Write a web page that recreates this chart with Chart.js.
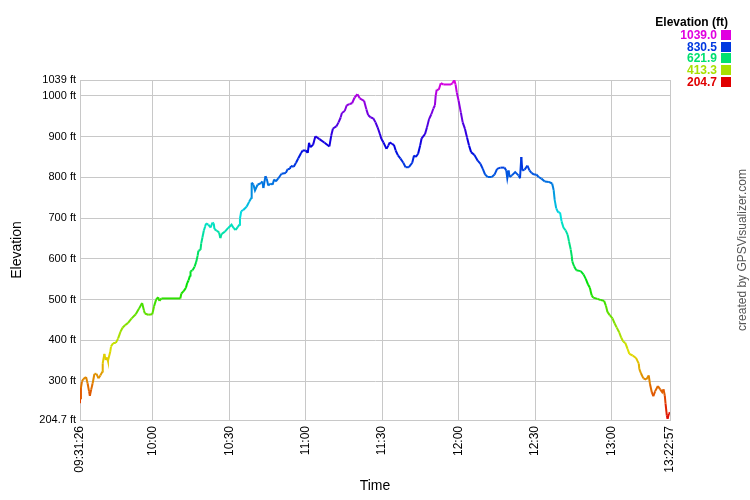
<!DOCTYPE html>
<html>
<head>
<meta charset="utf-8">
<script src="https://cdn.jsdelivr.net/npm/chart.js@4.4.0/dist/chart.umd.min.js"></script>
<style>
  body { margin: 0; background: #fff; }
  #wrap { width: 750px; height: 500px; }
</style>
</head>
<body>
<div id="wrap"><canvas id="chart" width="750" height="500"></canvas></div>
<script>
// time = minutes after 09:00, elevation in ft
var times = [
  31.43, 31.45, 31.8, 32.2, 32.7, 33.8, 34.4, 35.0, 35.3, 35.8, 36.4, 37.1, 37.9, 38.7, 39.4, 40.3, 40.35, 41.0, 41.5, 42.1,
  42.4, 43.3, 43.6, 44.4, 45.5, 46.4, 47.3, 48.1, 49.1, 50.3, 51.7, 53.3, 54.6, 55.8, 56.5, 56.9, 58.2, 59.8, 60.5, 61.3,
  62.1, 62.6, 63.4, 64.7, 68.8, 70.8, 71.2, 72.1, 73.0, 73.5, 74.0, 74.6, 74.8, 75.6, 76.4, 77.0, 77.6, 77.9, 78.7, 79.0,
  79.5, 80.0, 80.5, 80.9, 81.8, 82.7, 83.4, 83.9, 84.2, 85.1, 86.0, 86.5, 87.0, 88.3, 89.6, 90.9, 91.7, 92.5, 93.3, 94.0,
  94.2, 94.7, 95.5, 96.8, 97.8, 98.7, 98.8, 99.5, 100.1, 101.1, 102.4, 103.0, 103.4, 104.2, 104.7, 105.3, 106.3, 107.0, 107.6, 108.3,
  109.3, 110.5, 112.2, 112.9, 113.8, 114.2, 115.3, 116.2, 117.1, 118.2, 118.8, 120.0, 120.8, 121.3, 121.8, 122.9, 123.8, 125.4, 127.4, 129.3,
  130.0, 130.7, 132.0, 132.9, 133.7, 134.2, 135.3, 136.1, 137.2, 138.2, 139.2, 140.3, 141.2, 142.9, 143.8, 144.5, 145.5, 146.5, 147.4, 148.2,
  149.1, 149.7, 150.5, 151.7, 152.4, 153.0, 153.9,
  154.6, 155.3, 156.2, 157.2, 158.3, 159.2, 160.5, 161.8, 162.5, 163.2, 164.1, 164.9, 165.5, 166.8, 167.6, 168.4, 169.3, 170.1, 170.7, 171.0,
  171.4, 172.2, 173.0, 174.1, 177.0, 177.6, 178.3, 178.8, 179.3, 180.0, 180.9, 181.6, 182.5, 183.3, 184.1, 184.9, 186.2, 187.5, 188.6, 189.5,
  190.4, 191.4, 193.0, 194.1, 195.1, 196.4, 198.0, 198.7, 199.1, 199.6, 200.0, 200.9, 202.2, 203.5, 204.1, 204.6, 205.0, 205.9, 207.0, 207.8,
  208.6, 209.6, 210.5, 211.4, 212.5, 213.8, 215.4,
  216.7, 217.3, 217.7, 218.3, 219.1, 219.8, 220.4, 221.2, 222.0, 222.8, 223.3, 224.0, 224.4, 224.6, 225.3, 226.2, 227.9, 229.0, 229.9, 230.8,
  231.5, 232.2, 232.8, 234.5, 235.8, 237.1, 237.8, 238.4, 239.3, 240.4, 241.2, 242.0, 243.0, 243.8, 244.6, 245.4, 246.3, 247.0, 248.3, 249.6,
  250.7, 250.9, 251.5, 252.5, 253.6, 254.6, 255.1, 255.8, 256.4, 257.1, 258.2, 259.1, 259.9, 260.4, 260.9, 261.2, 261.7, 262.0, 262.5, 262.95
];
var elevations = [
  246, 258, 283, 299, 305, 310, 295, 275, 264, 279, 295, 318, 318, 307, 314, 324, 344, 367, 352, 358,
  350, 372, 385, 393, 394, 405, 421, 431, 437, 443, 454, 464, 478, 492, 474, 466, 463, 464, 484, 500,
  506, 497, 503, 503, 503, 503, 515, 521, 529, 541, 547, 559, 570, 572, 581, 592, 608, 620, 622, 638,
  653, 669, 679, 687, 684, 677, 689, 687, 673, 669, 665, 651, 661, 667, 676, 684, 676, 671, 678, 684,
  699, 717, 720, 728, 740, 750, 787, 782, 768, 782, 786, 790, 774, 803, 797, 780, 785, 782, 795, 790,
  798, 809, 811, 820, 821, 828, 826, 836, 847, 860, 866, 866, 860, 885, 874, 880, 901, 894, 885, 876,
  902, 920, 925, 935, 947, 958, 963, 977, 980, 982, 996, 1004, 994, 988, 967, 953, 947, 945, 935, 923,
  907, 894, 886, 870, 878, 886, 882,
  880, 866, 854, 846, 836, 825, 825, 836, 854, 850, 858, 878, 896, 906, 923, 943, 955, 969, 977, 1000,
  1015, 1015, 1031, 1028, 1028, 1031, 1039, 1028, 1008, 988, 959, 935, 919, 898, 878, 862, 855, 841, 833, 821,
  807, 801, 801, 807, 821, 824, 824, 817, 798, 817, 801, 805, 813, 805, 798, 850, 817, 819, 829, 817,
  811, 807, 807, 801, 797, 790, 789,
  785, 769, 745, 724, 714, 714, 692, 676, 670, 659, 643, 623, 607, 594, 582, 572, 570, 562, 551, 537,
  529, 511, 505, 502, 499, 497, 485, 470, 462, 454, 442, 432, 420, 407, 397, 394, 379, 367, 363, 357,
  343, 330, 320, 307, 304, 314, 293, 273, 263, 275, 288, 280, 273, 280, 265, 245, 216, 208, 220, 223
];

var xTickVals = [31.433, 60, 90, 120, 150, 180, 210, 240, 262.95];
var xTickLabels = ["09:31:26", "10:00", "10:30", "11:00", "11:30", "12:00", "12:30", "13:00", "13:22:57"];
var yTickVals = [204.7, 300, 400, 500, 600, 700, 800, 900, 1000, 1039];
var yTickLabels = ["204.7 ft", "300 ft", "400 ft", "500 ft", "600 ft", "700 ft", "800 ft", "900 ft", "1000 ft", "1039 ft"];
var legendVals = ["1039.0", "830.5", "621.9", "413.3", "204.7"];

var eMin = 204.7, eMax = 1039;
const elevColor = (v) => {
    var f = (v - eMin) / (eMax - eMin);
    f = Math.max(0, Math.min(1, f));
    return "hsl(" + (f * 300).toFixed(1) + ",100%,44%)";
};

const gridGrey = "#c8c8c8";
const fontFam = "'Liberation Sans', Arial, sans-serif";

// legend box top-right + credit text on the right edge
const extras = {
    id: "extras",
    afterDraw: (chart) => {
        var c = chart.ctx;
        c.save();
        c.textAlign = "right";
        c.textBaseline = "alphabetic";
        c.fillStyle = "#000";
        c.font = "bold 12px " + fontFam;
        c.fillText("Elevation (ft)", 728, 26);
        for (var i = 0; i < legendVals.length; i++) {
            var col = elevColor(parseFloat(legendVals[i]));
            var top = 30 + i * 11.7;
            c.fillStyle = col;
            c.fillText(legendVals[i], 717, top + 9);
            c.fillRect(721, Math.round(top), 10, 10);
        }
        c.translate(743, 250);
        c.rotate(-Math.PI / 2);
        c.textAlign = "center";
        c.textBaseline = "middle";
        c.fillStyle = "#555";
        c.font = "12px " + fontFam;
        c.fillText("created by GPSVisualizer.com", 0, 0);
        c.restore();
    }
};

var pts = times.map((t, i) => ({ x: t, y: elevations[i] }));

var ctx = document.getElementById("chart").getContext("2d");
var chart = new Chart(ctx, {
    type: "line",
    data: {
        datasets: [{
            data: pts,
            borderWidth: 2,
            pointRadius: 0,
            tension: 0,
            fill: false,
            borderColor: elevColor(600),
            segment: {
                borderColor: (s) => elevColor((s.p0.parsed.y + s.p1.parsed.y) / 2)
            }
        }]
    },
    options: {
        responsive: false,
        animation: false,
        devicePixelRatio: 1,
        layout: { padding: { top: 80, right: 80, left: 0, bottom: 0 } },
        plugins: { legend: { display: false }, tooltip: { enabled: false } },
        scales: {
            x: {
                type: "linear",
                min: 31.433,
                max: 262.95,
                afterBuildTicks: (s) => { s.ticks = xTickVals.map(v => ({ value: v })); },
                afterFit: (s) => { s.height = 80; },
                ticks: {
                    autoSkip: false,
                    minRotation: 90,
                    maxRotation: 90,
                    padding: 6,
                    color: "#000",
                    font: { family: fontFam, size: 12 },
                    callback: (v, i) => xTickLabels[i]
                },
                grid: { color: gridGrey, drawTicks: false, lineWidth: 1 },
                border: { color: gridGrey },
                title: {
                    display: true,
                    text: "Time",
                    color: "#000",
                    font: { family: fontFam, size: 14 },
                    padding: { top: 0, bottom: 5 }
                }
            },
            y: {
                min: eMin,
                max: eMax,
                afterBuildTicks: (s) => { s.ticks = yTickVals.map(v => ({ value: v })); },
                afterFit: (s) => { s.width = 80; },
                ticks: {
                    autoSkip: false,
                    padding: 4,
                    color: "#000",
                    font: { family: fontFam, size: 11 },
                    callback: (v, i) => yTickLabels[i]
                },
                grid: { color: gridGrey, drawTicks: false, lineWidth: 1 },
                border: { color: gridGrey },
                title: {
                    display: true,
                    text: "Elevation",
                    color: "#000",
                    font: { family: fontFam, size: 14 },
                    padding: { top: 9, bottom: 0 }
                }
            }
        }
    },
    plugins: [extras]
});
</script>
</body>
</html>
